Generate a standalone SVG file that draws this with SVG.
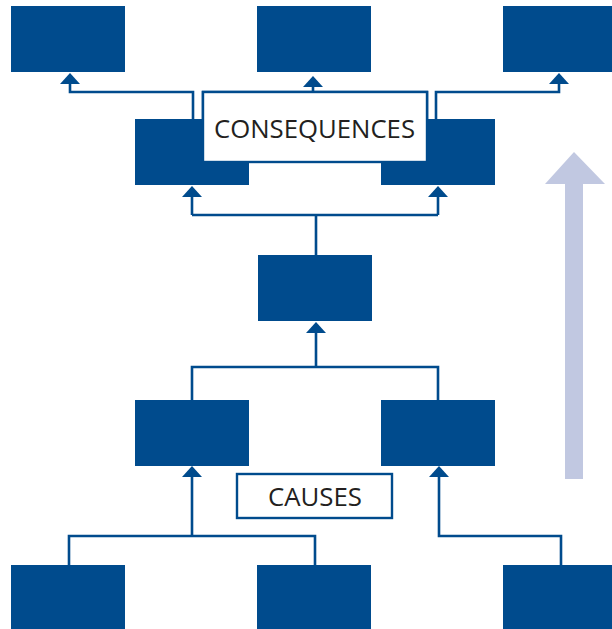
<svg xmlns="http://www.w3.org/2000/svg" width="612" height="629" viewBox="0 0 612 629">
<style>
.node{fill:#004b8d}
.conn{fill:none;stroke:#004b8d;stroke-width:2.6;stroke-linejoin:miter}
.lbl{fill:#ffffff;stroke:#004b8d;stroke-width:2.4}
.txt{font-family:"Open Sans","Liberation Sans",sans-serif;font-size:25px;fill:#231f20}
</style>
<defs>
<marker id="ah" markerUnits="userSpaceOnUse" viewBox="0 -10 11 20" refX="0" refY="0" markerWidth="11" markerHeight="20" orient="auto">
<path d="M0,-10 L11,0 L0,10 z" fill="#004b8d"/>
</marker>
</defs>
<rect x="0" y="0" width="612" height="629" fill="#ffffff"/>
<g id="big-arrow">
<polygon points="574,152 605,184 583,184 583,479 565,479 565,184 545,184" fill="#c1c8e1"/>
</g>
<g id="connectors">
<path class="conn" d="M193 119 V92 H70 V84" marker-end="url(#ah)"/>
<path class="conn" d="M436 119 V92 H559 V84" marker-end="url(#ah)"/>
<path class="conn" d="M203 119 V92 H427 V119"/>
<path class="conn" d="M313 92 V87" marker-end="url(#ah)"/>
<path class="conn" d="M316 255 V215 M192 215 H438"/>
<path class="conn" d="M192 215 V197" marker-end="url(#ah)"/>
<path class="conn" d="M438 215 V197" marker-end="url(#ah)"/>
<path class="conn" d="M192 400 V367 H438 V400"/>
<path class="conn" d="M316 367 V333" marker-end="url(#ah)"/>
<path class="conn" d="M69 565 V536 H315 V565"/>
<path class="conn" d="M192 536 V477" marker-end="url(#ah)"/>
<path class="conn" d="M561 565 V536 H439 V477" marker-end="url(#ah)"/>
</g>
<g id="top-left"><rect class="node" x="11" y="6" width="114" height="66"/></g>
<g id="top-middle"><rect class="node" x="257" y="6" width="114" height="66"/></g>
<g id="top-right"><rect class="node" x="503" y="6" width="109" height="66"/></g>
<g id="cons-left"><rect class="node" x="135" y="119" width="114" height="66"/></g>
<g id="cons-right"><rect class="node" x="381" y="119" width="114" height="66"/></g>
<g id="center"><rect class="node" x="258" y="255" width="114" height="66"/></g>
<g id="cause-left"><rect class="node" x="135" y="400" width="114" height="66"/></g>
<g id="cause-right"><rect class="node" x="381" y="400" width="114" height="66"/></g>
<g id="bottom-left"><rect class="node" x="11" y="565" width="114" height="64"/></g>
<g id="bottom-middle"><rect class="node" x="257" y="565" width="114" height="64"/></g>
<g id="bottom-right"><rect class="node" x="503" y="565" width="109" height="64"/></g>
<g id="label-consequences">
<rect class="lbl" x="203" y="92" width="224" height="70"/>
<text class="txt" x="214" y="138" textLength="201" lengthAdjust="spacingAndGlyphs">CONSEQUENCES</text>
</g>
<g id="label-causes">
<rect class="lbl" x="237" y="474" width="155" height="44"/>
<text class="txt" x="268" y="506" textLength="94" lengthAdjust="spacingAndGlyphs">CAUSES</text>
</g>
</svg>
